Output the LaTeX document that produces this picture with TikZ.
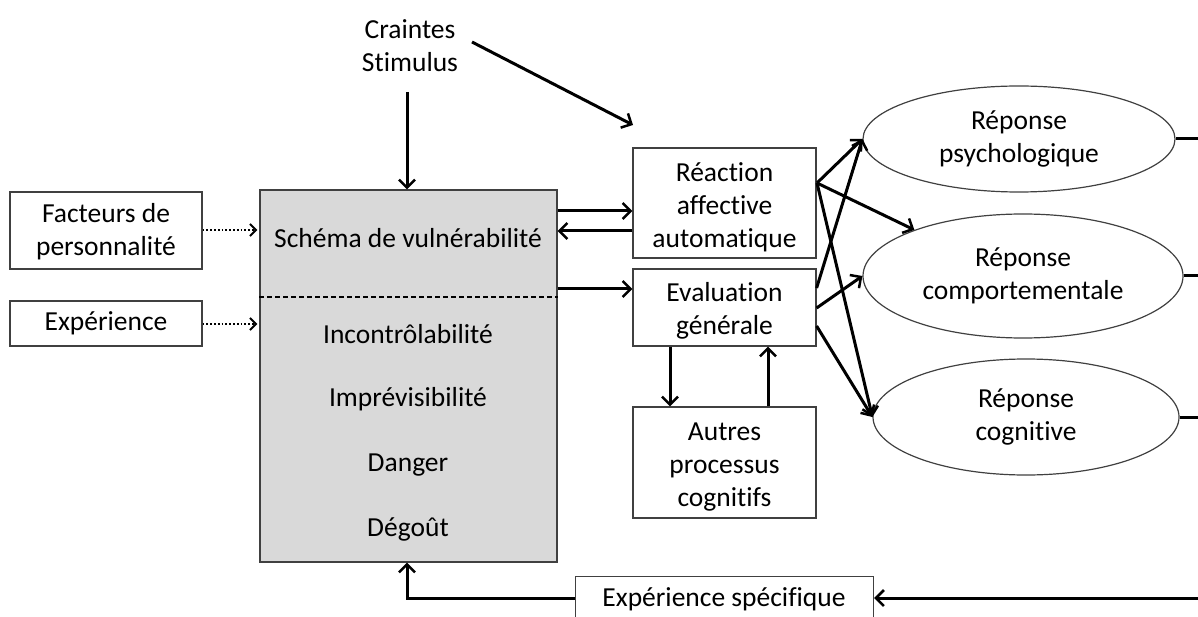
\documentclass[tikz,border=0pt]{standalone}
\usepackage{fontspec}
\setmainfont{Carlito}[Ligatures=NoCommon]
\usetikzlibrary{arrows.meta,shapes.geometric}
\begin{document}
\begin{tikzpicture}[x=1pt,y=-1pt,
  every node/.style={font=\fontsize{27.5}{33}\selectfont, text=black},
  box/.style={draw=black!75, line width=1.2pt, fill=white, align=center, inner sep=0pt},
  graybox/.style={draw=black!75, line width=1.2pt, fill=black!15, inner sep=0pt},
  resp/.style={ellipse, draw=black!75, line width=1.2pt, fill=white, align=center, inner sep=0pt},
  lbl/.style={align=center, inner sep=0pt},
  arr/.style={line width=3pt, -{Straight Barb[length=8pt,width=16pt,line width=2.5pt]}},
  dotarr/.style={line width=1.8pt, dotted, -{Straight Barb[length=6pt,width=12pt,line width=2pt]}},
  ln/.style={line width=3pt}
]
\useasboundingbox (0,0) rectangle (1198,617);
\clip (0,0) rectangle (1198,617);

% stimulus
\node[lbl] (stim) at (410,46) {Craintes\\Stimulus};
\coordinate (stimbot) at (407,92);
\coordinate (stimr) at (472,42);
\coordinate (stimtip) at (633,125);

% gray schema box
\node[graybox, minimum width=297, minimum height=372] (schema) at (408.5,376) {};
\node[lbl] (svul) at (408,238) {Schéma de vulnérabilité};
\node[lbl] (inc) at (408,334) {Incontrôlabilité};
\node[lbl] (impr) at (408,399) {Imprévisibilité};
\node[lbl] (dang) at (408,465) {Danger};
\node[lbl] (deg) at (408,529) {Dégoût};
\draw[dashed, line width=1.5pt, dash pattern=on 5pt off 3pt] (schema.west |- 0,297) -- (schema.east |- 0,297);

% left boxes
\node[box, minimum width=192, minimum height=77] (fact) at (106,230.5) {};
\node[lbl] (factt) at (106,232) {Facteurs de\\personnalité};
\node[box, minimum width=192, minimum height=45] (exp) at (106,323.5) {Expérience};

% middle boxes
\node[box, minimum width=183, minimum height=110] (reac) at (724.5,203) {};
\node[lbl] (react) at (724.5,207) {Réaction\\affective\\automatique};
\node[box, minimum width=183, minimum height=77] (eval) at (724.5,307.5) {};
\node[lbl] (evalt) at (724.5,311) {Evaluation\\générale};
\node[box, minimum width=183, minimum height=111] (autr) at (724.5,462.5) {};
\node[lbl] (autrt) at (724.5,467) {Autres\\processus\\cognitifs};

% responses
\node[resp, minimum width=312, minimum height=106] (psy) at (1019,139) {Réponse\\psychologique};
\node[resp, minimum width=320, minimum height=124] (comp) at (1023,276) {Réponse\\comportementale};
\node[resp, minimum width=306, minimum height=116] (cog) at (1026,417) {Réponse\\cognitive};

% bottom box
\node[box, minimum width=298, minimum height=60, anchor=north west] (spec) at (575,576) {};
\node[lbl] (spect) at (724,599) {Expérience spécifique};
\coordinate (rightend) at (1198,598);
\coordinate (corner) at (407,598);

% connectors
\draw[arr] (stimbot) -- (stimbot |- schema.north);
\draw[arr] (stimr) -- (stimtip);
\draw[dotarr] (fact.east |- 0,230) -- ([xshift=-2pt]schema.west |- 0,230);
\draw[dotarr] (exp.east |- 0,324) -- ([xshift=-2pt]schema.west |- 0,324);
\draw[arr] (schema.east |- 0,211) -- (reac.west |- 0,211);
\draw[arr] (reac.west |- 0,231) -- (schema.east |- 0,231);
\draw[arr] (schema.east |- 0,289) -- (eval.west |- 0,289);
\draw[arr] (eval.south -| 670,0) -- (autr.north -| 670,0);
\draw[arr] (autr.north -| 768,0) -- (eval.south -| 768,0);

\coordinate (rA) at (817,183);
\draw[arr] (rA) -- (psy.west);
\draw[arr] (rA) -- (comp.157);
\draw[arr] (rA) -- (cog.west);
\draw[arr] (eval.east |- 0,288) -- (psy.west);
\draw[arr] (eval.east |- 0,308) -- (comp.west);
\draw[arr] (eval.east |- 0,326) -- (cog.west);

\draw[ln] (psy.east) -- (psy.east -| rightend);
\draw[ln] (comp.east) -- (comp.east -| rightend);
\draw[ln] (cog.east) -- (cog.east -| rightend);

\draw[arr] (rightend) -- (spec.east |- rightend);
\draw[arr] (spec.west |- rightend) -- (corner) -- (corner |- schema.south);
\end{tikzpicture}
\end{document}
